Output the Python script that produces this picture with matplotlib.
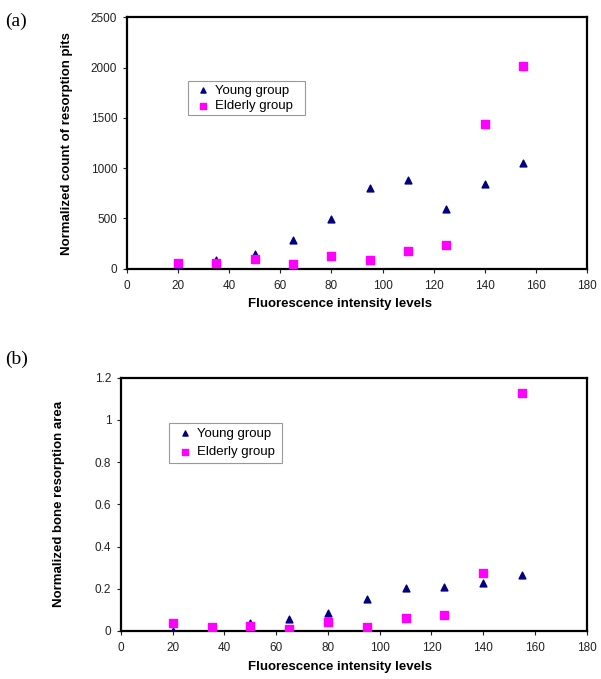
import numpy as np
import matplotlib.pyplot as plt

plt.rcParams['font.family'] = ['Liberation Sans', 'DejaVu Sans']

levels = [20, 35, 50, 65, 80, 95, 110, 125, 140, 155]

# (a) normalized count of resorption pits
pits_young = [0, 90, 150, 290, 495, 800, 880, 590, 845, 1050]
pits_elderly = [60, 55, 95, 45, 130, 85, 180, 240, 1440, 2015]

# (b) normalized bone resorption area
area_young = [0, 0.015, 0.039, 0.057, 0.087, 0.153, 0.202, 0.207, 0.227, 0.264]
area_elderly = [0.039, 0.017, 0.024, 0.011, 0.041, 0.020, 0.063, 0.074, 0.276, 1.127]

fig = plt.figure(figsize=(6.01, 6.79), dpi=100)

axa = fig.add_axes([0.2113, 0.6043, 0.7654, 0.370])
axb = fig.add_axes([0.2013, 0.0707, 0.775, 0.373])


def style(ax, ylabel, ylim, yticks, yfmt, ylab_x, xlab_x):
    ax.set_xlim(0, 180)
    ax.set_xticks(range(0, 181, 20))
    ax.set_ylim(*ylim)
    ax.set_yticks(yticks)
    ax.set_yticklabels([yfmt(v) for v in yticks])
    for s in ax.spines.values():
        s.set_linewidth(1.6)
    ax.tick_params(direction='out', length=3, width=0.8, labelsize=8.5, colors='#222222')
    ax.tick_params(axis='x', pad=5)
    ax.tick_params(axis='y', pad=4)
    ax.set_xlabel('Fluorescence intensity levels', fontsize=9.5, fontweight='bold')
    ax.set_ylabel(ylabel, fontsize=9.5, fontweight='bold')
    ax.xaxis.set_label_coords(xlab_x, -0.117)
    ax.yaxis.set_label_coords(ylab_x, 0.5)


def legend(ax, box, pad, spacing):
    leg = ax.legend(loc='upper left', bbox_to_anchor=box, mode='expand', fontsize=9.5,
                    frameon=True, fancybox=False, edgecolor='#808080', handletextpad=0.0,
                    borderpad=pad, labelspacing=spacing, handlelength=1.8,
                    markerscale=0.75, scatterpoints=1, borderaxespad=0)
    leg.get_frame().set_linewidth(0.8)


axa.scatter(levels, pits_young, marker='^', s=24, color='#000080', label='Young group', zorder=3)
axa.scatter(levels, pits_elderly, marker='s', s=26, color='#FF00FF', label='Elderly group', zorder=3)
style(axa, 'Normalized count of resorption pits', (0, 2500), [0, 500, 1000, 1500, 2000, 2500],
      lambda v: str(int(v)), -0.118, 0.463)
legend(axa, (0.1326, 0.604, 0.254, 0.143), 0.25, 0.25)

axb.scatter(levels, area_young, marker='^', s=24, color='#000080', label='Young group', zorder=3)
axb.scatter(levels, area_elderly, marker='s', s=26, color='#FF00FF', label='Elderly group', zorder=3)
style(axb, 'Normalized bone resorption area', (0, 1.2), [0, 0.2, 0.4, 0.6, 0.8, 1.0, 1.2],
      lambda v: ('%g' % round(v, 1)), -0.12, 0.470)
legend(axb, (0.103, 0.655, 0.243, 0.166), 0.35, 0.45)

fig.text(0.008, 0.982, '(a)', fontsize=14, family=['Liberation Serif', 'DejaVu Serif'], va='top')
fig.text(0.008, 0.484, '(b)', fontsize=14, family=['Liberation Serif', 'DejaVu Serif'], va='top')

fig.savefig('out.png', dpi=100)
